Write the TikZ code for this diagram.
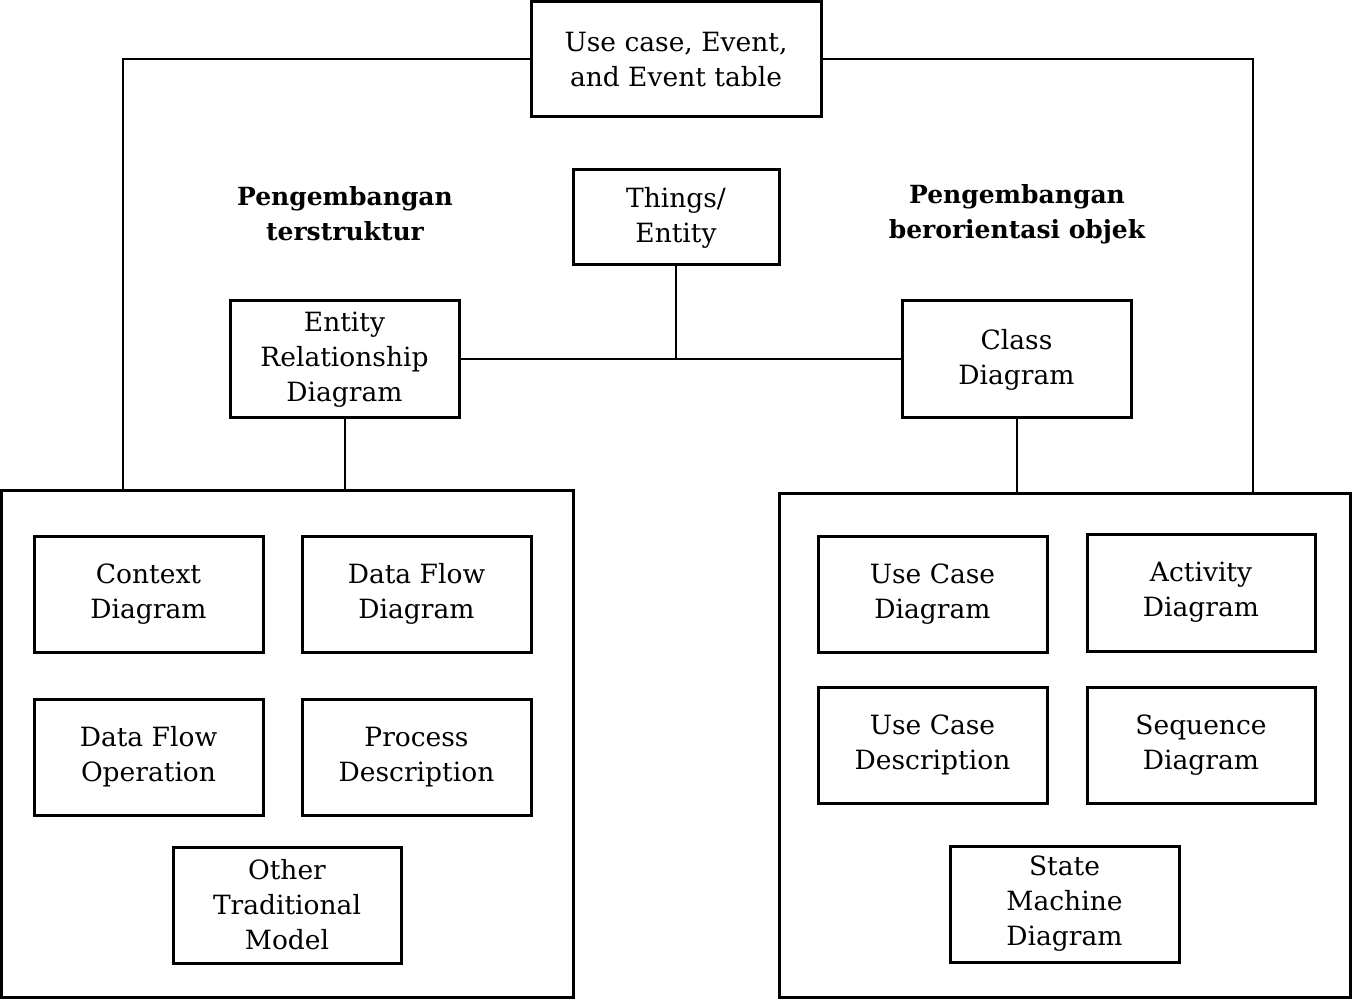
\documentclass[tikz,border=0pt]{standalone}
\usepackage{fontspec}
\setmainfont{DejaVu Serif}
\begin{document}
\begin{tikzpicture}[x=1pt,y=-1pt,
  box/.style={draw,line width=3pt,align=center,inner sep=0pt,font=\fontsize{26.5}{35}\selectfont},
  big/.style={draw,line width=3pt,inner sep=0pt},
  lbl/.style={align=center,font=\fontsize{25}{35}\selectfont\bfseries},
  conn/.style={line width=2pt}]
\useasboundingbox (0,0) rectangle (1353,1000);
\newcommand{\bx}[6]{\node[box,minimum width=#4-#2,minimum height=#5-#3] (#1) at ({(#2+#4)/2},{(#3+#5)/2}) {#6};}
\newcommand{\bg}[5]{\node[big,minimum width=#4-#2,minimum height=#5-#3] (#1) at ({(#2+#4)/2},{(#3+#5)/2}) {};}
\bx{uc}{531}{2}{821}{117}{Use case, Event,\\and Event table}
\bx{th}{573}{170}{779}{265}{Things/\\Entity}
\bx{erd}{230}{301}{459}{418}{Entity\\Relationship\\Diagram}
\bx{cls}{902}{301}{1131}{418}{Class\\Diagram}
\bg{L}{1.5}{490}{573}{997}
\bg{R}{779}{493}{1350}{997}
\bx{cd}{34}{536}{263}{652}{Context\\Diagram}
\bx{dfd}{302}{536}{531}{652}{Data Flow\\Diagram}
\bx{dfo}{34}{699}{263}{815}{Data Flow\\Operation}
\bx{pd}{302}{699}{531}{815}{Process\\Description}
\bx{otm}{173}{847}{401}{963}{Other\\Traditional\\Model}
\bx{ucd}{818}{536}{1047}{652}{Use Case\\Diagram}
\bx{ad}{1087}{534}{1315}{651}{Activity\\Diagram}
\bx{ucdesc}{818}{687}{1047}{803}{Use Case\\Description}
\bx{sd}{1087}{687}{1315}{803}{Sequence\\Diagram}
\bx{smd}{950}{846}{1179}{962}{State\\Machine\\Diagram}
\node[lbl] (lt) at (345,214) {Pengembangan\\terstruktur};
\node[lbl] (rt) at (1017,214) {Pengembangan\\berorientasi objek};
\coordinate (j) at (676,359);
\coordinate (lc) at (123,490);
\coordinate (rc) at (1253,493);
\draw[conn] (uc.west) -| (lc);
\draw[conn] (uc.east) -| (rc);
\draw[conn] (th.south) -- (j);
\draw[conn] (erd.east) -- (cls.west);
\draw[conn] (erd.south) -- (erd.south |- L.north);
\draw[conn] (cls.south) -- (cls.south |- R.north);
\end{tikzpicture}
\end{document}
